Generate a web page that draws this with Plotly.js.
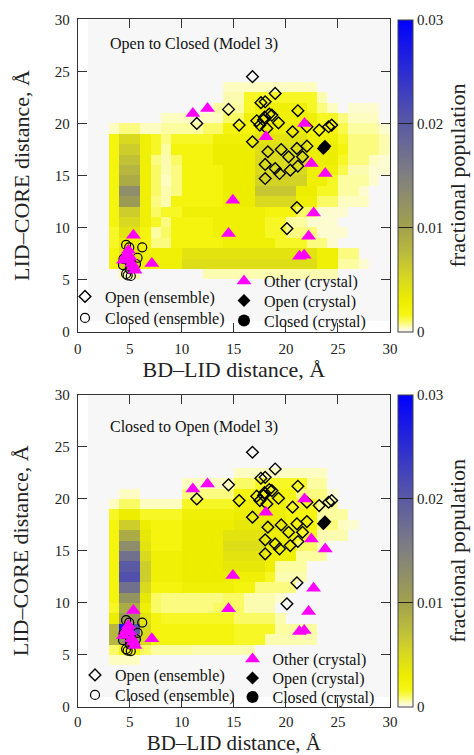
<!DOCTYPE html>
<html>
<head>
<meta charset="utf-8">
<script src="https://cdn.plot.ly/plotly-3.0.1.min.js"></script>
<style>
  html, body { margin: 0; padding: 0; background: #ffffff; }
  #chart { width: 474px; height: 755px; }
</style>
</head>
<body>
<div id="chart"></div>
<script>
// ---------------- DATA ----------------
// Bin centres (1 Å bins) along BD–LID (x) and LID–CORE (y, listed top -> bottom)
const xBins = [0.5,1.5,2.5,3.5,4.5,5.5,6.5,7.5,8.5,9.5,10.5,11.5,12.5,13.5,14.5,15.5,16.5,17.5,18.5,19.5,20.5,21.5,22.5,23.5,24.5,25.5,26.5,27.5,28.5,29.5];
const yBins = [29.5,28.5,27.5,26.5,25.5,24.5,23.5,22.5,21.5,20.5,19.5,18.5,17.5,16.5,15.5,14.5,13.5,12.5,11.5,10.5,9.5,8.5,7.5,6.5,5.5,4.5,3.5,2.5,1.5,0.5];
const N = null;
// Fractional population, in units of 1e-3, rows follow yBins (top -> bottom)
const popOpenToClosed = [
  [N,0,0,0,0, 0,0,0,0,0, 0,0,0,0,0, 0,0,0,0,0, 0,0,0,0,0, 0,0,0,0,0],
  [N,0,0,0,0, 0,0,0,0,0, 0,0,0,0,0, 0,0,0,0,0, 0,0,0,0,0, 0,0,0,0,0],
  [N,0,0,0,0, 0,0,0,0,0, 0,0,0,0,0, 0,0,0,0,0, 0,0,0,0,0, 0,0,0,0,0],
  [N,0,0,0,0, 0,0,0,0,0, 0,0,0,0,0, 0,0,0,0,0, 0,0,0,0,0, 0,0,0,0,0],
  [N,0,0,0,0, 0,0,0,0,0, 0,0,0,0,0, 0,0,0,0,0, 0,0,0,0,0, 0,0,0,0,0],
  [N,0,0,0,0, 0,0,0,0,0, 0,0,0,0,0, 0,0,0,0,0, 0,0,0,0,0, 0,0,0,0,0],
  [N,0,0,0,0, 0,0,0,0,0, 0,0,0,0,.4, .4,.4,.4,.4,.4, .4,.4,.4,0,0, 0,0,0,0,0],
  [N,0,0,0,0, 0,0,0,0,0, 0,0,0,0,.5, .5,1.5,1.5,1.5,1.5, 1.5,1.5,1.5,.5,0, 0,0,0,0,0],
  [N,0,0,0,0, 0,0,0,0,0, 0,0,0,.6,.6, .6,1.5,2.5,2.5,2.5, 2.5,2.5,1.5,.8,.4, 0,.3,.3,.3,0],
  [N,0,0,0,0, 0,0,0,.4,.4, .4,.4,.4,.4,1, 1,2.5,2.5,2.5,2.5, 2.5,2.5,2.5,1.5,1.5, .8,.4,.4,.4,0],
  [N,0,0,.4,.8, .8,.4,.4,.6,.6, .6,.6,1,1,2, 2,2,3,3,3, 3,3,2,2,2, 1.2,.6,.6,.6,.3],
  [N,0,0,2,5, 5,2.5,1.5,.8,1.5, 1.5,1.5,1.5,2.5,2.5, 2.5,2.5,4,4,4, 4,4,2.5,2.5,2.5, 1.5,.8,.8,.8,.5],
  [N,0,0,2,6, 6,2.5,1.5,.6,2, 2,2,2,3,3, 3,3,4.5,4.5,4.5, 4.5,4.5,3,3,3, 2,.8,.8,.8,.5],
  [N,0,0,2,7, 7,2.5,.8,.5,1, 2,2,2,3,3, 3,3,5,5,5, 5,5,3,3,3, 1.5,.8,.8,.4,.3],
  [N,0,0,2,8, 8,2.5,1,.5,.8, 2,2,2,2,3, 3,3,5,5,5, 5,5,2.5,2.5,2.5, 1.2,.5,.5,.3,.3],
  [N,0,0,2,9, 9,2.5,1,.4,.8, 2,2,2,2,3, 3,3,5.5,5.5,5.5, 5.5,5.5,2.5,2.5,1.5, .6,.6,.6,.3,0],
  [N,0,0,2,13, 13,2.5,1,.5,.8, 2,2,2,2,3, 3,3,6.5,6.5,6.5, 6.5,3,3,1.5,1.5, .6,.6,.3,0,0],
  [N,0,0,2,11, 11,2.5,.8,.5,2, 2,2,2,2,3, 3,3,5,5,5, 5,2.5,2.5,1,1, .4,.4,.4,0,0],
  [N,0,0,2,6, 6,2.5,1,1.5,1.5, 2.5,2.5,2.5,2.5,2.5, 2.5,2.5,2.5,2,2, 2,1,1,.3,.3, .3,0,0,0,0],
  [N,0,0,2,5, 5,2.5,1.5,.8,2, 2,2,2,2.5,2.5, 2.5,2.5,2.5,1.5,1.5, .6,.6,.3,.3,.3, 0,0,0,0,0],
  [N,0,0,1.5,4, 4,2,.6,1,2, 2,2,2,2.5,2.5, 2.5,2.5,2.5,1.5,1.5, .8,.8,.8,.3,.3, .3,0,0,0,0],
  [N,0,0,1.5,3, 3,2,.8,.8,2, 2,2,2,2,2.5, 2.5,2.5,2.5,2.5,1.5, 1.5,1.5,.8,.8,.3, 0,0,0,0,0],
  [N,0,0,2,4, 4,2.5,2.5,2.5,2.5, 4,4,4,4,4, 4,4,4,4,4, 4,4,4,2.5,2.5, .8,.8,0,0,0],
  [N,0,0,2,5, 5,2.5,2.5,2.5,2.5, 4.5,4.5,4.5,4.5,4.5, 4.5,4.5,4.5,4.5,4.5, 4.5,4.5,4.5,2.5,2.5, .6,.6,.3,0,0],
  [N,0,0,0,.5, .5,0,0,0,0, 0,0,.5,.5,.5, .5,.5,.5,.5,.5, .5,.5,.5,.5,.5, 0,0,0,0,0],
  [N,0,0,0,0, 0,0,0,0,0, 0,0,0,0,0, 0,0,0,0,0, 0,0,0,0,0, 0,0,0,0,0],
  [N,0,0,0,0, 0,0,0,0,0, 0,0,0,0,0, 0,0,0,0,0, 0,0,0,0,0, 0,0,0,0,0],
  [N,0,0,0,0, 0,0,0,0,0, 0,0,0,0,0, 0,0,0,0,0, 0,0,0,0,0, 0,0,0,0,0],
  [N,0,0,0,0, 0,0,0,0,0, 0,0,0,0,0, 0,0,0,0,0, 0,0,0,0,0, 0,0,0,0,0],
  [N,N,N,N,N, N,N,N,N,N, N,N,N,N,N, N,N,N,N,N, N,N,N,N,N, N,N,N,N,N]
];
const popClosedToOpen = [
  [N,0,0,0,0, 0,0,0,0,0, 0,0,0,0,0, 0,0,0,0,0, 0,0,0,0,0, 0,0,0,0,0],
  [N,0,0,0,0, 0,0,0,0,0, 0,0,0,0,0, 0,0,0,0,0, 0,0,0,0,0, 0,0,0,0,0],
  [N,0,0,0,0, 0,0,0,0,0, 0,0,0,0,0, 0,0,0,0,0, 0,0,0,0,0, 0,0,0,0,0],
  [N,0,0,0,0, 0,0,0,0,0, 0,0,0,0,0, 0,0,0,0,0, 0,0,0,0,0, 0,0,0,0,0],
  [N,0,0,0,0, 0,0,0,0,0, 0,0,0,0,0, 0,0,0,0,0, 0,0,0,0,0, 0,0,0,0,0],
  [N,0,0,0,0, 0,0,0,0,0, 0,0,0,0,0, 0,0,0,0,0, 0,0,0,0,0, 0,0,0,0,0],
  [N,0,0,0,0, 0,0,0,0,0, 0,0,0,0,0, 0,0,0,0,0, 0,0,0,0,0, 0,0,0,0,0],
  [N,0,0,0,0, 0,0,0,0,0, 0,0,0,0,0, .4,.4,.4,.4,.4, .4,.4,.4,.4,0, 0,0,0,0,0],
  [N,0,0,0,0, 0,0,0,0,0, .4,.4,.4,.4,.4, 1,1,1.5,1.5,1.5, 1.5,1.5,.6,.6,0, 0,0,0,0,0],
  [N,0,0,0,.4, .4,0,0,0,0, .8,.8,.8,.8,.8, 2,2,2,2,2, 2,.8,.8,.8,.3, 0,0,0,0,0],
  [N,0,0,.4,1, 1,.4,.4,.4,.4, 1.5,1.5,1.5,1.5,1.5, 2.5,2.5,2.5,2.5,2.5, 1.5,1.5,1.5,.6,.6, 0,0,0,0,0],
  [N,0,0,1.5,3, 3,1.5,1.5,1.5,1.5, 2.5,2.5,2.5,2.5,2.5, 3,3,3,3,3, 2,2,2,.6,.6, .6,0,0,0,0],
  [N,0,0,2,6, 6,3,2,2,2, 3,3,3,3,3, 3.5,3.5,3.5,3.5,3.5, 2,2,2,.8,.8, .4,.3,0,0,0],
  [N,0,0,2,9, 9,3.5,2,2,2, 3,3,3,3,4, 4,4,4,3,3, 3,1.5,1.5,.5,.5, .5,0,0,0,0],
  [N,0,0,2,13, 13,4,2,2,2, 3,3,3,3,4.5, 4.5,4.5,4.5,3,3, 3,1,1,.4,0, 0,0,0,0,0],
  [N,0,0,2,17, 17,5,2.5,2.5,2.5, 3,3,3,3,4, 4,4,4,2.5,2.5, 2.5,.6,.6,.6,0, 0,0,0,0,0],
  [N,0,0,2,20, 20,6,2.5,2.5,2.5, 3,3,3,3,3.5, 3.5,3.5,3.5,2.5,.6, .6,.6,0,0,0, 0,0,0,0,0],
  [N,0,0,2,21, 21,6,2.5,2.5,2.5, 3,3,3,3,3, 2.5,2.5,2.5,1.5,.5, .5,.5,0,0,0, 0,0,0,0,0],
  [N,0,0,2,17, 17,5,2,2,2, 2.5,2.5,2.5,2.5,2.5, 2,2,.8,.8,.8, .8,0,0,0,0, 0,0,0,0,0],
  [N,0,0,2,12, 12,3.5,1,.8,.8, .8,.8,.8,.8,1, 1,.5,.5,.5,.3, 0,0,0,0,0, 0,0,0,0,0],
  [N,0,0,1.5,9, 9,2.5,1,.8,.8, .8,.8,.8,1,1, 1,.5,.5,.5,0, 0,0,0,0,0, 0,0,0,0,0],
  [N,0,0,3,11, 11,4,2,1.5,1.5, 1.5,1.5,1.5,1.5,1.5, 1,1,1,1,.5, 0,0,0,0,0, 0,0,0,0,0],
  [N,0,0,8,28, 20,5,2,2,2, 2,2,2,2,2, 1.5,1.5,1.5,1.5,.6, .6,.6,.6,0,0, 0,0,0,0,0],
  [N,0,0,8,12, 12,5,2,2,2, 2,2,2,2,2, 1.5,1.5,1.5,.5,.5, .5,.5,.5,0,0, 0,0,0,0,0],
  [N,0,0,1,2, 2,1,.6,.6,.6, .6,.5,.5,.5,.5, .5,.5,0,0,0, 0,0,0,0,0, 0,0,0,0,0],
  [N,0,0,.4,.4, .4,0,0,0,0, 0,0,0,0,0, 0,0,0,0,0, 0,0,0,0,0, 0,0,0,0,0],
  [N,0,0,0,0, 0,0,0,0,0, 0,0,0,0,0, 0,0,0,0,0, 0,0,0,0,0, 0,0,0,0,0],
  [N,0,0,0,0, 0,0,0,0,0, 0,0,0,0,0, 0,0,0,0,0, 0,0,0,0,0, 0,0,0,0,0],
  [N,0,0,0,0, 0,0,0,0,0, 0,0,0,0,0, 0,0,0,0,0, 0,0,0,0,0, 0,0,0,0,0],
  [N,N,N,N,N, N,N,N,N,N, N,N,N,N,N, N,N,N,N,N, N,N,N,N,N, N,N,N,N,N]
];

// Structures (same in both panels)
const openEnsX = [16.79,18.97,17.6,18.01,14.49,11.44,21.15,18.65,18.4,15.51,17.2,17.85,17.5,18.17,19.29,20.64,22.02,23.2,24.1,24.4,16.79,18.27,19.55,21.06,22.02,20.26,21.6,18.01,18.97,19.39,20.42,21.15,18.01,21.06,20.1,17.95];
const openEnsY = [24.49,22.88,21.99,22.08,21.35,20.0,21.22,20.8,20.9,19.84,20.26,20.32,19.84,19.52,20.06,19.2,19.68,19.36,19.68,19.84,18.24,17.28,17.5,17.6,17.82,16.79,16.79,16.06,15.67,15.19,15.51,15.9,14.71,11.92,9.9,20.6];
const closedEnsX = [4.65,4.95,6.2,4.35,4.65,5.1,5.6,5.75,4.4,5.0,4.8];
const closedEnsY = [8.33,8.1,8.1,6.4,5.55,5.35,6.5,7.1,7.0,6.0,5.4];
const otherCrysX = [11.06,12.47,21.79,18.08,22.44,23.78,14.9,22.66,14.49,22.18,21.3,21.76,7.12,5.35,4.39,5.03,5.19,5.35,4.87,5.5,4.7];
const otherCrysY = [20.96,21.44,20.0,18.72,16.15,15.19,12.63,11.41,9.42,9.17,7.24,7.34,6.54,9.26,6.86,7.18,6.54,6.22,7.82,5.9,7.4];
const openCrysX = [23.6,23.75];
const openCrysY = [17.6,17.8];
const closedCrysX = [5.0];
const closedCrysY = [6.8];

const tickVals = [0,5,10,15,20,25,30];
const cbTickVals = [0,0.01,0.02,0.03];
const cbTickText = ['0','0.01','0.02','0.03'];
const panelTitles = ['Open to Closed (Model 3)','Closed to Open (Model 3)'];
const seriesNames = ['Open (ensemble)','Closed (ensemble)','Other (crystal)','Open (crystal)','Closed (crystal)'];

// ---------------- STYLE ----------------
const FONT = 'Liberation Serif, Times New Roman, serif';
const W = 474, H = 755;
const px = v => v / W;
const py = v => 1 - v / H;

const cscale = [
  [0, '#f7f7f7'],
  [0.012, '#fdfdc8'],
  [0.03, '#fbfb70'],
  [0.055, '#f6f614'],
  [0.1, '#eded00'],
  [0.17, '#d8d822'],
  [0.26, '#b8b840'],
  [0.333, '#a2a24c'],
  [0.5, '#808080'],
  [0.667, '#5a5aa4'],
  [1, '#0000ff']
];

const toFraction = rows => rows.map(r => r.map(v => v === null ? null : v / 1000));

// legend placement per panel: [text-left px, row centre px] for each series
const panels = [
  {top: 19.3, bottom: 331.7, z: popOpenToClosed, xa: 'x', ya: 'y',
   leg: [[105, 296.5], [105, 318], [264, 281], [264, 300.5], [264, 320.5]]},
  {top: 395, bottom: 706.7, z: popClosedToOpen, xa: 'x2', ya: 'y2',
   leg: [[115, 675], [115, 695], [272.5, 659], [272.5, 678], [272.5, 697]]}
];

const markerStyles = [
  {symbol: 'diamond-open', size: 9, color: '#000', line: {width: 1.4, color: '#000'}},
  {symbol: 'circle-open', size: 9, color: '#000', line: {width: 1.2, color: '#000'}},
  {symbol: 'triangle-up', size: 13, color: '#ff00ff'},
  {symbol: 'diamond', size: 10, color: '#000'},
  {symbol: 'circle', size: 12, color: '#000'}
];
const seriesX = [openEnsX, closedEnsX, otherCrysX, openCrysX, closedCrysX];
const seriesY = [openEnsY, closedEnsY, otherCrysY, openCrysY, closedCrysY];
const drawOrder = [4, 0, 1, 3, 2]; // closed crystal hidden under the triangles

const data = [];
const layoutLegends = {};
let legendCount = 1;
panels.forEach((p, i) => {
  data.push({
    type: 'heatmap', x: xBins, y: yBins, z: toFraction(p.z),
    xaxis: p.xa, yaxis: p.ya, zmin: 0, zmax: 0.03, zsmooth: false,
    colorscale: cscale, showlegend: false,
    colorbar: {
      x: px(398), xanchor: 'left', xref: 'paper', xpad: 0,
      y: py((p.top + p.bottom) / 2), yanchor: 'middle', yref: 'paper', ypad: 0,
      len: (p.bottom - p.top) / H, lenmode: 'fraction',
      thickness: 15, thicknessmode: 'pixels',
      outlinewidth: 1, outlinecolor: '#444',
      tickmode: 'array', tickvals: cbTickVals, ticktext: cbTickText,
      ticks: 'inside', ticklen: 15, tickwidth: 1, tickcolor: '#222',
      tickfont: {family: FONT, size: 15, color: '#222'},
      title: {text: 'fractional population', side: 'right', font: {family: FONT, size: 22, color: '#222'}}
    }
  });
  drawOrder.forEach(k => {
    legendCount += 1;
    const lname = 'legend' + legendCount;
    data.push({
      type: 'scatter', mode: 'markers', name: seriesNames[k],
      x: seriesX[k], y: seriesY[k], xaxis: p.xa, yaxis: p.ya,
      legend: lname, showlegend: true, marker: markerStyles[k]
    });
    layoutLegends[lname] = {
      x: px(p.leg[k][0] - 40), xanchor: 'left', xref: 'paper',
      y: py(p.leg[k][1]), yanchor: 'middle', yref: 'paper',
      bgcolor: 'rgba(0,0,0,0)', borderwidth: 0, visible: true,
      font: {family: FONT, size: 16, color: '#111'}
    };
  });
});

function axisStyle(extra) {
  return Object.assign({
    range: [0, 30], autorange: false, tickmode: 'array', tickvals: tickVals,
    ticks: 'inside', ticklen: 9, tickwidth: 1, tickcolor: '#333',
    showline: true, linecolor: '#333', linewidth: 1, mirror: 'ticks',
    showgrid: false, zeroline: false, fixedrange: true,
    tickfont: {family: FONT, size: 15, color: '#222'}
  }, extra);
}

const layout = Object.assign({
  width: W, height: H,
  margin: {l: 0, r: 0, t: 0, b: 0},
  showlegend: true,
  paper_bgcolor: '#ffffff', plot_bgcolor: '#ffffff',
  font: {family: FONT, color: '#222'},
  xaxis: axisStyle({domain: [px(77.7), px(390)], anchor: 'y', ticklabelstandoff: 3,
    title: {text: 'BD–LID distance, Å', font: {family: FONT, size: 22, color: '#222'}, standoff: 5}}),
  yaxis: axisStyle({domain: [py(331.7), py(19.3)], anchor: 'x', ticklabelstandoff: 4,
    title: {text: 'LID–CORE distance, Å', font: {family: FONT, size: 22, color: '#222'}, standoff: 19}}),
  xaxis2: axisStyle({domain: [px(77.7), px(390)], anchor: 'y2', ticklabelstandoff: 1,
    title: {text: 'BD–LID distance, Å', font: {family: FONT, size: 21, color: '#222'}, standoff: 6}}),
  yaxis2: axisStyle({domain: [py(706.7), py(395)], anchor: 'x2', ticklabelstandoff: 4,
    title: {text: 'LID–CORE distance, Å', font: {family: FONT, size: 22, color: '#222'}, standoff: 19}}),
  annotations: [
    {text: panelTitles[0], xref: 'paper', yref: 'paper', x: px(107.7), y: py(44), xanchor: 'left', yanchor: 'middle',
     showarrow: false, font: {family: FONT, size: 16, color: '#111'}},
    {text: panelTitles[1], xref: 'paper', yref: 'paper', x: px(108.3), y: py(426.7), xanchor: 'left', yanchor: 'middle',
     showarrow: false, font: {family: FONT, size: 16, color: '#111'}}
  ]
}, layoutLegends);

Plotly.newPlot('chart', data, layout, {displayModeBar: false, responsive: false});
</script>
</body>
</html>
